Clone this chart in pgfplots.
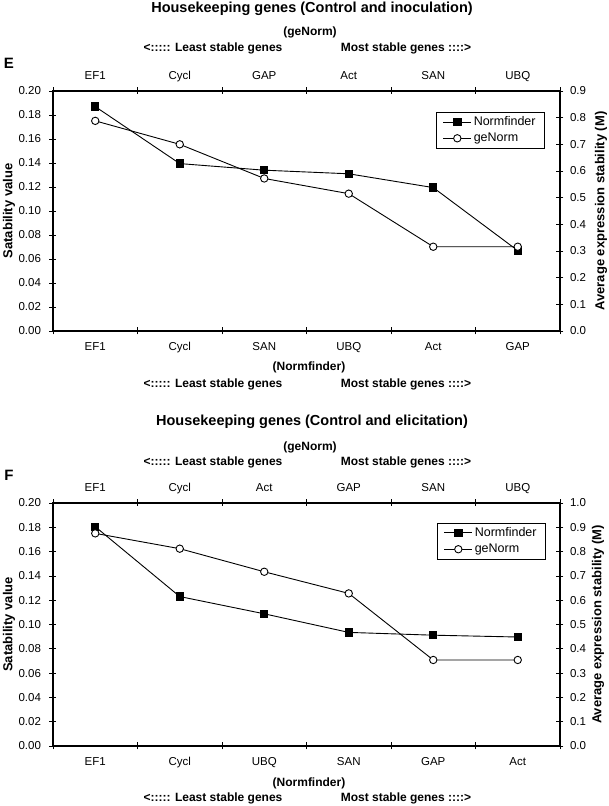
\documentclass[border=0pt]{standalone}
\usepackage{fontspec}
\setmainfont{Liberation Sans}
\usepackage{pgfplots}
\pgfplotsset{compat=1.18}
\newcommand\tk{\fontsize{11.5}{13}\selectfont}
\newcommand\bl{\fontsize{12}{14}\selectfont\bfseries}
\newcommand\bt{\fontsize{14.5}{16}\selectfont\bfseries}
\newcommand\bx{\fontsize{13}{15}\selectfont\bfseries}

\pgfplotsset{
 base/.style={
  scale only axis, width=507pt,
  xmin=0.5, xmax=6.5, ymin=0,
  xtick={0.5,1.5,...,6.5},
  xticklabel style={xshift=42.25pt, text height=0.72em, text depth=0pt},
  major tick length=7pt,
  tick align=center,
  tick style={black, line width=0.6pt},
  axis line style={line width=1.6pt},
  tick label style={font=\tk},
  /pgf/number format/assume math mode=true,
  clip=false,
 },
 nf/.style={black, line width=0.9pt, mark=square*, mark size=3.7pt, mark options={solid, fill=black}},
 gn/.style={black, line width=0.9pt, mark=*, mark size=3.7pt, mark options={solid, fill=white}},
 lab/.style={
  legend style={draw=black, thin, font=\fontsize{12.5}{14}\selectfont, anchor=north east, inner xsep=7pt, inner ysep=2.5pt, row sep=2pt},
  legend cell align=left,
  legend image code/.code={\draw[mark repeat=2,mark phase=2] plot coordinates {(0pt,0pt)(14pt,0pt)(28pt,0pt)};},
 },
 left/.style={
  base, xtick pos=bottom, ytick pos=left, ymax=0.20,
  xticklabel shift=5.7pt,
  ytick={0,0.02,0.04,0.06,0.08,0.10,0.12,0.14,0.16,0.18,0.20},
  yticklabel style={/pgf/number format/.cd, fixed, fixed zerofill, precision=2},
  yticklabel shift=5pt,
 },
 right/.style={
  base, lab, xtick pos=top, xticklabel pos=top, ytick pos=right, yticklabel pos=right,
  xticklabel shift=4.7pt,
  yticklabel style={/pgf/number format/.cd, fixed, fixed zerofill, precision=1},
  yticklabel shift=3pt,
 },
}

\pgfplotstableread{
x  nf      gn
1  0.187   0.788
2  0.1395  0.700
3  0.134   0.572
4  0.131   0.515
5  0.1195  0.316
6  0.067   0.316
}\dataE
\pgfplotstableread{
x  nf      gn
1  0.1805  0.875
2  0.123   0.812
3  0.1088  0.717
4  0.0935  0.628
5  0.0912  0.354
6  0.0897  0.354
}\dataF

\begin{document}
\begin{tikzpicture}
\path[use as bounding box] (0pt,0pt) rectangle (609pt,806pt);

% ---------- E ----------
\begin{axis}[left, at={(53pt,475pt)}, anchor=south west, height=240pt,
  xticklabels={EF1,Cycl,SAN,UBQ,Act,GAP,{}}]
 \addplot[nf] table[x=x, y=nf] {\dataE};
\end{axis}
\begin{axis}[right, at={(53pt,475pt)}, anchor=south west, height=240pt,
  ymax=0.9, ytick={0,0.1,0.2,0.3,0.4,0.5,0.6,0.7,0.8,0.9},
  xticklabels={EF1,Cycl,GAP,Act,SAN,UBQ,{}},
  legend style={at={(axis description cs:0.970,0.9125)}}]
 \addlegendimage{nf}
 \addlegendentry{Normfinder}
 \addplot[gn] table[x=x, y=gn] {\dataE};
 \addlegendentry{geNorm}
\end{axis}

\node[font=\bt] at (312pt,797pt) {Housekeeping genes (Control and inoculation)};
\node[font=\bl] at (310pt,774pt) {(geNorm)};
\node[font=\bl] at (213pt,758pt) {<::::: Least stable genes};
\node[font=\bl] at (406pt,758pt) {Most stable genes ::::>};
\node[font=\fontsize{15}{17}\selectfont\bfseries] at (9pt,743pt) {E};
\node[font=\bl] at (309pt,439pt) {(Normfinder)};
\node[font=\bl] at (213pt,422pt) {<::::: Least stable genes};
\node[font=\bl] at (406pt,422pt) {Most stable genes ::::>};
\node[font=\bx, rotate=90] at (9pt,595pt) {Satability value};
\node[font=\bx, rotate=90] at (601pt,595pt) {Average expression stability (M)};

% ---------- F ----------
\begin{axis}[left, at={(53pt,60pt)}, anchor=south west, height=243pt,
  xticklabels={EF1,Cycl,UBQ,SAN,GAP,Act,{}}]
 \addplot[nf] table[x=x, y=nf] {\dataF};
\end{axis}
\begin{axis}[right, at={(53pt,60pt)}, anchor=south west, height=243pt,
  ymax=1.0, ytick={0,0.1,0.2,0.3,0.4,0.5,0.6,0.7,0.8,0.9,1.0},
  xticklabels={EF1,Cycl,Act,GAP,SAN,UBQ,{}},
  legend style={at={(axis description cs:0.972,0.918)}}]
 \addlegendimage{nf}
 \addlegendentry{Normfinder}
 \addplot[gn] table[x=x, y=gn] {\dataF};
 \addlegendentry{geNorm}
\end{axis}

\node[font=\bt] at (312pt,384pt) {Housekeeping genes (Control and elicitation)};
\node[font=\bl] at (310pt,359pt) {(geNorm)};
\node[font=\bl] at (213pt,344pt) {<::::: Least stable genes};
\node[font=\bl] at (406pt,344pt) {Most stable genes ::::>};
\node[font=\fontsize{15}{17}\selectfont\bfseries] at (9pt,331pt) {F};
\node[font=\bl] at (309pt,23pt) {(Normfinder)};
\node[font=\bl] at (213pt,8pt) {<::::: Least stable genes};
\node[font=\bl] at (406pt,8pt) {Most stable genes ::::>};
\node[font=\bx, rotate=90] at (9pt,181.5pt) {Satability value};
\node[font=\bx, rotate=90] at (598pt,181.5pt) {Average expression stability (M)};
\end{tikzpicture}
\end{document}
